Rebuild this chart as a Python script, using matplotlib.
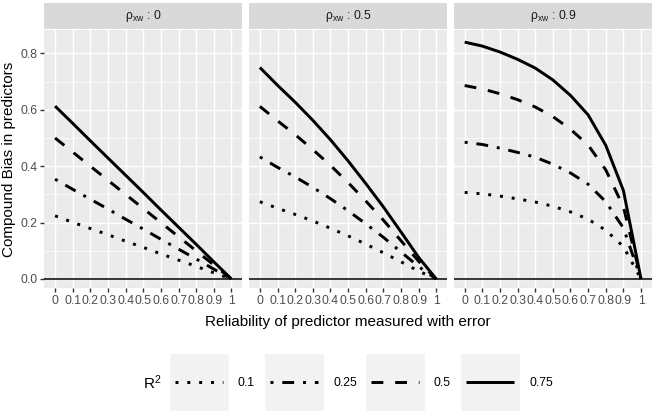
"""
Compound bias in predictors vs. reliability of the error-laden predictor,
one facet per correlation between predictors (rho_xw), one line per R^2.

Saves out.png (653x415 px).
"""

import matplotlib
matplotlib.use("Agg")
import matplotlib.pyplot as plt
from matplotlib.patches import Rectangle

plt.rcParams["font.family"] = ["Liberation Sans", "DejaVu Sans"]
plt.rcParams["mathtext.fontset"] = "custom"
plt.rcParams["mathtext.rm"] = "Liberation Sans"
plt.rcParams["mathtext.it"] = "Liberation Sans:italic"

# ---- data ----
reliability = [0.0, 0.1, 0.2, 0.3, 0.4, 0.5, 0.6, 0.7, 0.8, 0.9, 1.0]
tick_labels = ["0", "0.1", "0.2", "0.3", "0.4", "0.5", "0.6", "0.7", "0.8", "0.9", "1"]
rho_levels = ["0", "0.5", "0.9"]
r2_levels = ["0.1", "0.25", "0.5", "0.75"]

# rows follow r2_levels
bias_rho_0 = [
    [0.224, 0.201, 0.179, 0.157, 0.134, 0.112, 0.089, 0.067, 0.045, 0.022, 0.0],
    [0.354, 0.318, 0.283, 0.248, 0.212, 0.177, 0.141, 0.106, 0.071, 0.035, 0.0],
    [0.500, 0.450, 0.400, 0.350, 0.300, 0.250, 0.200, 0.150, 0.100, 0.050, 0.0],
    [0.613, 0.552, 0.490, 0.429, 0.368, 0.307, 0.245, 0.184, 0.123, 0.061, 0.0],
]
bias_rho_05 = [
    [0.274, 0.251, 0.229, 0.206, 0.180, 0.153, 0.124, 0.093, 0.061, 0.028, 0.0],
    [0.433, 0.396, 0.362, 0.325, 0.285, 0.242, 0.196, 0.148, 0.096, 0.044, 0.0],
    [0.612, 0.561, 0.512, 0.459, 0.403, 0.342, 0.277, 0.209, 0.136, 0.063, 0.0],
    [0.750, 0.687, 0.627, 0.563, 0.494, 0.419, 0.339, 0.256, 0.167, 0.077, 0.0],
]
bias_rho_09 = [
    [0.307, 0.302, 0.294, 0.284, 0.273, 0.258, 0.238, 0.212, 0.173, 0.115, 0.0],
    [0.485, 0.477, 0.464, 0.449, 0.432, 0.407, 0.376, 0.336, 0.274, 0.181, 0.0],
    [0.686, 0.674, 0.657, 0.636, 0.610, 0.576, 0.531, 0.475, 0.387, 0.256, 0.0],
    [0.840, 0.826, 0.805, 0.779, 0.748, 0.706, 0.651, 0.582, 0.474, 0.314, 0.0],
]
panels = [bias_rho_0, bias_rho_05, bias_rho_09]

# ggplot-style linetypes: dotted "13", dotdash "1343", dashed "44", solid
DASHES = [(1, 3), (1, 3, 4, 3), (4, 4), None]
LW = 2.13

W, H = 653, 415
PANEL_BG = "#EBEBEB"
STRIP_BG = "#D9D9D9"
TXT = "#4D4D4D"


def px_axes(fig, x0, y0, w, h):
    """Axes from pixel box (top-left origin)."""
    return fig.add_axes([x0 / W, 1 - (y0 + h) / H, w / W, h / H])


def draw_panel(ax, series, show_y):
    for vals, dash in zip(series, DASHES):
        line, = ax.plot(reliability, vals, color="black", lw=LW,
                        solid_capstyle="butt", zorder=3)
        if dash is not None:
            line.set_dashes(dash)
    ax.axhline(0, color="black", lw=1.1, zorder=2)

    ax.set_facecolor(PANEL_BG)
    ax.set_xlim(-0.06, 1.06)
    ax.set_ylim(-0.033, 0.883)
    ax.set_xticks(reliability)
    ax.set_xticklabels(tick_labels)
    ax.set_yticks([0, 0.2, 0.4, 0.6, 0.8])
    ax.set_yticks([0.1, 0.3, 0.5, 0.7], minor=True)
    ax.set_yticklabels(["0.0", "0.2", "0.4", "0.6", "0.8"])
    ax.grid(which="major", color="white", lw=1.07)
    ax.grid(which="minor", axis="y", color="white", lw=0.53)
    ax.set_axisbelow(True)
    for s in ax.spines.values():
        s.set_visible(False)
    ax.tick_params(axis="both", which="major", length=2.75, width=1.0,
                   color="#333333", labelsize=8.8, labelcolor=TXT, pad=2.2)
    ax.tick_params(axis="y", which="minor", length=0)
    if not show_y:
        ax.tick_params(axis="y", which="major", length=0, labelleft=False)


def draw_legend(fig):
    lax = fig.add_axes([0, 0, 1, 1])
    lax.set_xlim(0, W)
    lax.set_ylim(H, 0)
    lax.axis("off")
    lax.patch.set_alpha(0)
    lax.text(143, 383, r"$\mathrm{R^2}$", fontsize=11, color="black",
             va="center", ha="left")
    key_left = [169, 264, 365, 460]
    for x0, dash, lab in zip(key_left, DASHES, r2_levels):
        lax.add_patch(Rectangle((x0, 353), 60, 58, facecolor="#F2F2F2",
                                edgecolor="white", lw=1))
        line, = lax.plot([x0 + 6, x0 + 54], [382, 382], color="black",
                         lw=LW, solid_capstyle="butt")
        if dash is not None:
            line.set_dashes(dash)
        lax.text(x0 + 69, 383, lab, fontsize=8.8, color="black",
                 va="center", ha="left")


def main():
    fig = plt.figure(figsize=(W / 100, H / 100), dpi=100)
    draw_legend(fig)

    left, pw, gap = 44.5, 197.5, 7.3
    top, ph = 30, 258.3
    for i, (rho, series) in enumerate(zip(rho_levels, panels)):
        x0 = left + i * (pw + gap)
        ax = px_axes(fig, x0, top, pw, ph)
        draw_panel(ax, series, show_y=(i == 0))

        strip = px_axes(fig, x0, 3.3, pw, 26)
        strip.set_facecolor(STRIP_BG)
        strip.set_xticks([])
        strip.set_yticks([])
        for s in strip.spines.values():
            s.set_visible(False)
        strip.text(0.5, 0.5, r"$\mathrm{ρ_{xw}}$ : " + rho, fontsize=8.8,
                   color="#1A1A1A", ha="center", va="center",
                   transform=strip.transAxes)

    fig.text((left + 1.5 * pw + gap) / W, 1 - 322 / H,
             "Reliability of predictor measured with error",
             fontsize=11, ha="center", va="center")
    fig.text(9.5 / W, 1 - (top + ph / 2) / H, "Compound Bias in predictors",
             fontsize=11, rotation=90, ha="center", va="center")

    fig.savefig("out.png", dpi=100)
    plt.close(fig)


if __name__ == "__main__":
    main()
